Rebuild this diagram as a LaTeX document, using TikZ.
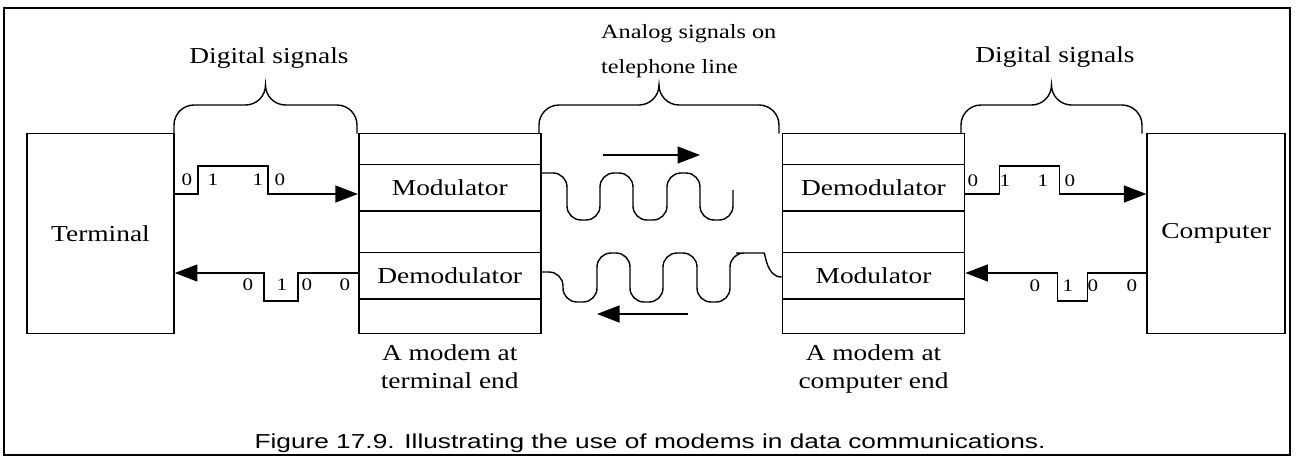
\documentclass[tikz,border=0pt]{standalone}
\usepackage{fontspec}
\setmainfont{Liberation Serif}[FakeStretch=1.2]
\newfontfamily\capfont{Liberation Sans}[FakeStretch=1.3]
\usepackage{tikz}
\usetikzlibrary{arrows.meta,positioning}
\tikzset{%
	unit/.style   = {draw, line width=1pt, rectangle, minimum width=2.94cm, minimum height=4cm, text centered},
	modem/.style  = {draw, line width=1pt, rectangle, minimum width=3.64cm, minimum height=4cm},
	part/.style   = {draw, line width=1pt, rectangle, minimum width=3.64cm, minimum height=0.93cm, inner sep=0pt, text centered},
	digit/.style  = {font=\fontsize{10}{12}\selectfont, inner sep=0pt},
	signal/.style = {thick, -{Triangle[length=0.45cm,width=0.34cm]}},
	wave/.style   = {thick, rounded corners=0.28cm},
	brace/.style  = {thick},
}

\begin{document}
\begin{tikzpicture}[font=\fontsize{13}{16}\selectfont]
	\useasboundingbox (0,0) rectangle (25.94,-9.20);
	\draw[line width=1.4pt] (0.08,-0.16) rectangle (25.80,-9.10);
	
	% terminal, the two modems and the computer
	\node[unit] (term) at (2.01,-4.67) {Terminal};
	\node[modem, right=3.66cm of term] (lmodem) {};
	\node[modem, right=4.80cm of lmodem] (rmodem) {};
	\node[unit, minimum width=2.76cm, right=3.62cm of rmodem] (comp) {Computer};
	\node[part, below=0.62cm of lmodem.north] (lmodu) {Modulator};
	\node[part, above=0.69cm of lmodem.south] (ldemod) {Demodulator};
	\node[part, below=0.62cm of rmodem.north] (rdemod) {Demodulator};
	\node[part, above=0.69cm of rmodem.south] (rmodu) {Modulator};
	\node[below=0.08cm of lmodem, align=center] (lnote) {A modem at\\terminal end};
	\node[below=0.08cm of rmodem, align=center] (rnote) {A modem at\\computer end};
	
	% braces over the three links
	\draw[brace] (3.48,-2.67) -- ++(0,0.17) arc (180:90:0.4) -- (4.91,-2.10) arc (270:360:0.4) arc (180:270:0.4) -- (6.74,-2.10) arc (90:0:0.4) -- ++(0,-0.17);
	\draw[brace] (10.78,-2.67) -- ++(0,0.17) arc (180:90:0.4) -- (12.78,-2.10) arc (270:360:0.4) arc (180:270:0.4) -- (15.18,-2.10) arc (90:0:0.4) -- ++(0,-0.17);
	\draw[brace] (19.22,-2.67) -- ++(0,0.17) arc (180:90:0.4) -- (20.63,-2.10) arc (270:360:0.4) arc (180:270:0.4) -- (22.44,-2.10) arc (90:0:0.4) -- ++(0,-0.17);
	\node (ldig) at (5.38,-1.16) {Digital signals};
	\node[anchor=west, align=left, font=\fontsize{11.5}{14}\selectfont] (analog) at (11.90,-1.03) {Analog signals on\\[6pt]telephone line};
	\node (rdig) at (21.10,-1.14) {Digital signals};
	
	% digital signals
	\draw[signal] ([yshift=0.79cm]term.east) -- ++(0.46,0) -- ++(0,0.56) -- ++(1.40,0) -- ++(0,-0.56) -- ([yshift=0.79cm]lmodem.west);
	\draw[signal] ([yshift=-0.79cm]lmodem.west) -- ++(-1.20,0) -- ++(0,-0.56) -- ++(-0.68,0) -- ++(0,0.56) -- ([yshift=-0.79cm]term.east);
	\draw[signal] ([yshift=0.79cm]rmodem.east) -- ++(0.68,0) -- ++(0,0.56) -- ++(1.20,0) -- ++(0,-0.56) -- ([yshift=0.79cm]comp.west);
	\draw[signal] ([yshift=-0.79cm]comp.west) -- ++(-1.18,0) -- ++(0,-0.56) -- ++(-0.60,0) -- ++(0,0.56) -- ([yshift=-0.79cm]rmodem.east);
	\node[digit] (tl1) at (3.74,-3.60) {0};
	\node[digit] (tl2) at (4.26,-3.60) {1};
	\node[digit] (tl3) at (5.16,-3.60) {1};
	\node[digit] (tl4) at (5.60,-3.60) {0};
	\node[digit] (bl1) at (4.96,-5.70) {0};
	\node[digit] (bl2) at (5.64,-5.70) {1};
	\node[digit] (bl3) at (6.14,-5.70) {0};
	\node[digit] (bl4) at (6.90,-5.70) {0};
	\node[digit] (tr1) at (19.46,-3.62) {0};
	\node[digit] (tr2) at (20.10,-3.62) {1};
	\node[digit] (tr3) at (20.86,-3.62) {1};
	\node[digit] (tr4) at (21.40,-3.62) {0};
	\node[digit] (br1) at (20.70,-5.72) {0};
	\node[digit] (br2) at (21.36,-5.72) {1};
	\node[digit] (br3) at (21.86,-5.72) {0};
	\node[digit] (br4) at (22.64,-5.72) {0};
	
	% analog signals on the line
	\draw[wave] ([yshift=1.21cm]lmodem.east) -| (11.34,-4.40) -| (12.00,-3.46) -| (12.66,-4.40) -| (13.34,-3.46) -| (14.00,-4.40) -| (14.66,-3.80);
	\draw[wave] ([yshift=-0.77cm]lmodem.east) -| (11.26,-6.04) -| (11.94,-5.06) -| (12.60,-6.04) -| (13.26,-5.06) -| (13.94,-6.04) -| (14.60,-5.06) -- (15.00,-5.06) to[out=0,in=180] ([yshift=-0.87cm]rmodem.west);
	\coordinate (ta) at (12.06,-3.10);
	\coordinate (tb) at (14.00,-3.10);
	\coordinate (ba) at (13.76,-6.28);
	\coordinate (bb) at (11.94,-6.28);
	\draw[signal] (ta) -- (tb);
	\draw[signal] (ba) -- (bb);
	
	\node[font=\capfont\fontsize{11.5}{14}\selectfont] (cap) at (13.00,-8.86) {Figure 17.9. Illustrating the use of modems in data communications.};
\end{tikzpicture}
\end{document}
